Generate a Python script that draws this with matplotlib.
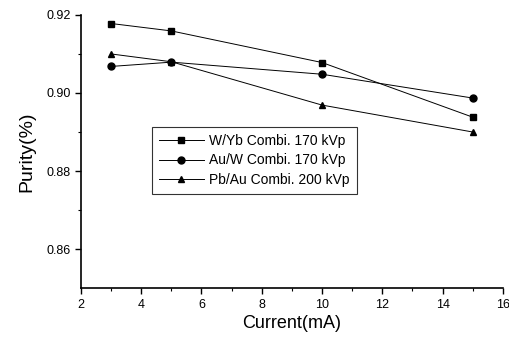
import matplotlib
matplotlib.use("Agg")
import matplotlib.pyplot as plt

plt.rcParams['font.family'] = ['Liberation Sans', 'DejaVu Sans']

current = [3, 5, 10, 15]
wyb = [0.9178, 0.9159, 0.9078, 0.8938]
auw = [0.9068, 0.9079, 0.9048, 0.8987]
pbau = [0.9100, 0.9080, 0.8969, 0.8900]
labels = ['W/Yb Combi. 170 kVp', 'Au/W Combi. 170 kVp', 'Pb/Au Combi. 200 kVp']

fig = plt.figure(figsize=(5.09, 3.39), dpi=100)
ax = fig.add_axes([0.159, 0.150, 0.829, 0.806])

# three series, same black line style, different markers
ax.plot(current, wyb, '-s', color='black', lw=0.7, ms=5, label=labels[0])
ax.plot(current, auw, '-o', color='black', lw=0.7, ms=5, label=labels[1])
ax.plot(current, pbau, '-^', color='black', lw=0.7, ms=5, label=labels[2])

ax.set_xlim(2, 16)
ax.set_ylim(0.85, 0.92)
ax.set_xticks([2, 4, 6, 8, 10, 12, 14, 16])
ax.set_xticks([3, 5, 7, 9, 11, 13, 15], minor=True)
ax.set_yticks([0.86, 0.88, 0.90, 0.92])
ax.set_yticks([0.87, 0.89, 0.91], minor=True)
ax.set_yticklabels(['0.86', '0.88', '0.90', '0.92'])

for s in ['top', 'right']:
    ax.spines[s].set_visible(False)
for s in ['left', 'bottom']:
    ax.spines[s].set_linewidth(1.2)
ax.tick_params(which='major', direction='out', length=4, width=1, labelsize=9)
ax.tick_params(which='minor', direction='out', length=2, width=0.8)

ax.set_xlabel('Current(mA)', fontsize=13, labelpad=3)
ax.set_ylabel('Purity(%)', fontsize=14, labelpad=8)

leg = ax.legend(loc='lower left', bbox_to_anchor=(0.299, 0.428), bbox_transform=fig.transFigure,
                fontsize=10, frameon=True, fancybox=False, edgecolor='black',
                borderaxespad=0, handlelength=3.2, handletextpad=0.4,
                borderpad=0.5, labelspacing=0.4)
leg.get_frame().set_linewidth(0.8)

fig.savefig('out.png', dpi=100)
